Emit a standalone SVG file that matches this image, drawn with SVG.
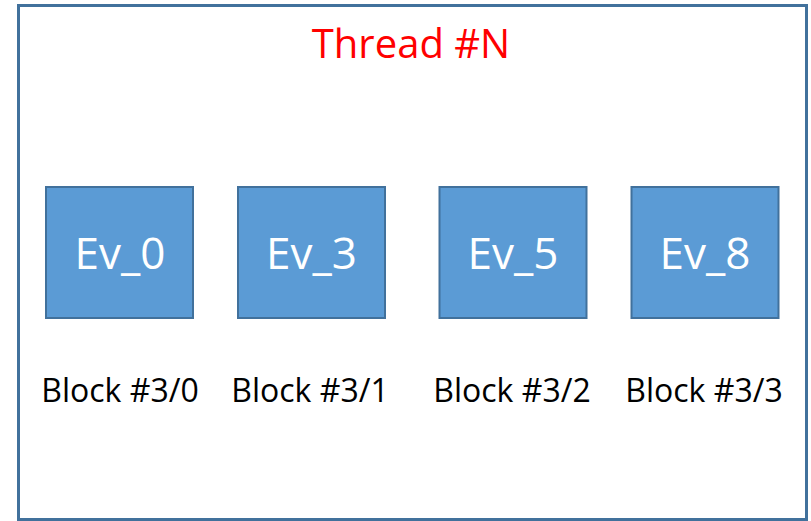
<svg xmlns="http://www.w3.org/2000/svg" width="811" height="521" viewBox="0 0 811 521">
<style>
.frame{fill:#ffffff;stroke:#41719C;stroke-width:3}
.ev rect{fill:#5B9BD5;stroke:#41719C;stroke-width:2}
.ev text{font-family:"Open Sans","Liberation Sans",sans-serif;font-size:44px;fill:#ffffff;text-anchor:middle}
.lbl{font-family:"Open Sans","Liberation Sans",sans-serif;font-size:32px;fill:#000000;text-anchor:middle}
.title{font-family:"Open Sans","Liberation Sans",sans-serif;font-size:40px;fill:#FF0000;text-anchor:middle}
</style>
<rect width="811" height="521" fill="#ffffff"/>
<g id="thread">
<rect class="frame" x="18.5" y="5.5" width="788" height="514"/>
<text class="title" x="411" y="58">Thread #N</text>
</g>
<g id="ev0" class="ev">
<rect x="46" y="187" width="147" height="131"/>
<text x="120" y="269">Ev_0</text>
</g>
<g id="ev3" class="ev">
<rect x="238" y="187" width="147" height="131"/>
<text x="311.5" y="269">Ev_3</text>
</g>
<g id="ev5" class="ev">
<rect x="439.5" y="187" width="147" height="131"/>
<text x="513" y="269">Ev_5</text>
</g>
<g id="ev8" class="ev">
<rect x="631.5" y="187" width="147" height="131"/>
<text x="705" y="269">Ev_8</text>
</g>
<g id="labels">
<text class="lbl" x="120" y="401.5">Block #3/0</text>
<text class="lbl" x="310" y="401.5">Block #3/1</text>
<text class="lbl" x="512" y="401.5">Block #3/2</text>
<text class="lbl" x="704" y="401.5">Block #3/3</text>
</g>
<g id="connectors"></g>
</svg>
